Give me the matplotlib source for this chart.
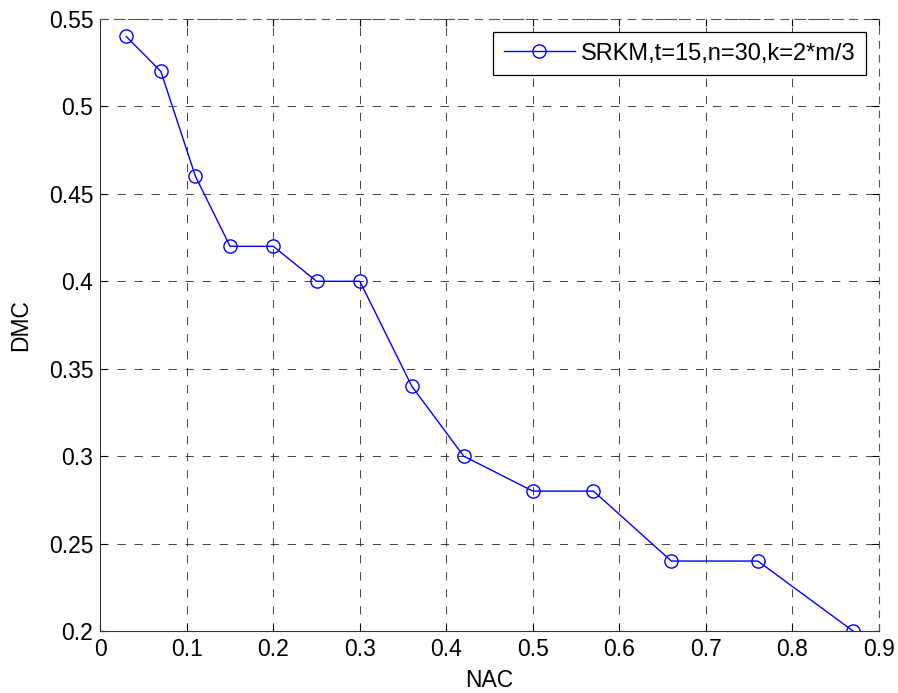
import matplotlib
matplotlib.use("Agg")
import matplotlib.pyplot as plt

nac = [0.03, 0.07, 0.11, 0.15, 0.20, 0.25, 0.30, 0.36, 0.42, 0.50, 0.57, 0.66, 0.76, 0.87]
dmc = [0.54, 0.52, 0.46, 0.42, 0.42, 0.40, 0.40, 0.34, 0.30, 0.28, 0.28, 0.24, 0.24, 0.20]
series_label = "SRKM,t=15,n=30,k=2*m/3"
xticks = [0, 0.1, 0.2, 0.3, 0.4, 0.5, 0.6, 0.7, 0.8, 0.9]
xticklabels = ["0", "0.1", "0.2", "0.3", "0.4", "0.5", "0.6", "0.7", "0.8", "0.9"]
yticks = [0.2, 0.25, 0.3, 0.35, 0.4, 0.45, 0.5, 0.55]
yticklabels = ["0.2", "0.25", "0.3", "0.35", "0.4", "0.45", "0.5", "0.55"]

plt.rcParams['font.family'] = ['Liberation Sans', 'DejaVu Sans']
fs = 16.5

fig = plt.figure(figsize=(8.98, 6.93), dpi=100)
ax = fig.add_axes([100.3/898, (693-631)/693, (879-100.3)/898, (631-19)/693])

ax.plot(nac, dmc, color=(0, 0, 1), linewidth=1.0, marker='o', markersize=9.5,
        markerfacecolor='none', markeredgecolor=(0, 0, 1), markeredgewidth=1.0,
        label=series_label)

ax.set_xlim(0, 0.9)
ax.set_ylim(0.2, 0.55)
ax.set_xticks(xticks)
ax.set_xticklabels(xticklabels, fontsize=fs)
ax.set_yticks(yticks)
ax.set_yticklabels(yticklabels, fontsize=fs)
ax.tick_params(direction='in', top=True, right=True, length=5, width=0.8, pad=5,
               color='black')
ax.grid(True, color='#222222', linestyle=(0, (8.5, 9.0)), linewidth=0.7, alpha=0.85)
for side in ['left', 'bottom']:
    ax.spines[side].set_linewidth(0.8)
    ax.spines[side].set_color('#333333')
for side in ['top', 'right']:
    ax.spines[side].set_linewidth(0.8)
    ax.spines[side].set_color('#555555')
    ax.spines[side].set_linestyle((0, (6.0, 6.5)))

ax.set_xlabel("NAC", fontsize=fs, labelpad=6)
ax.set_ylabel("DMC", fontsize=fs, labelpad=12)

leg = ax.legend(loc='upper right', fontsize=17, frameon=True, fancybox=False,
                edgecolor='black', framealpha=1, borderpad=0.45, handlelength=3.0,
                handletextpad=0.25, borderaxespad=0.55)
leg.get_frame().set_linewidth(0.9)

fig.savefig("out.png", dpi=100)
